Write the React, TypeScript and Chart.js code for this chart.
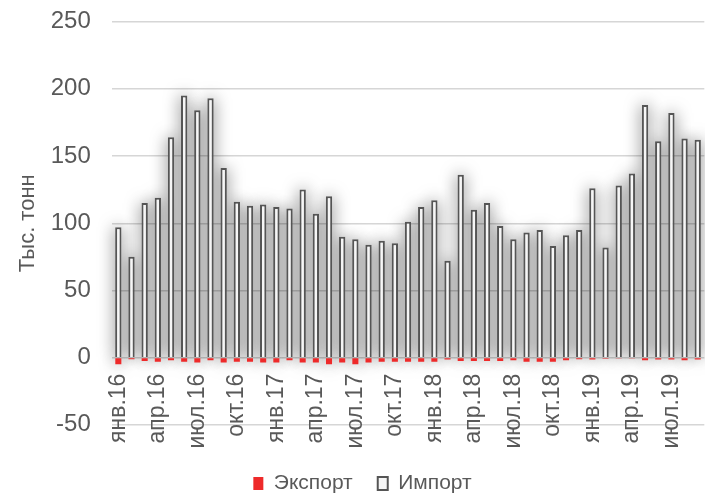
import { useEffect, useRef } from "react";
import { Chart, registerables } from "chart.js";

Chart.register(...registerables);

const categories: string[] = [
  "янв.16", "фев.16", "мар.16", "апр.16", "май.16", "июн.16", "июл.16", "авг.16", "сен.16", "окт.16", "ноя.16", "дек.16",
  "янв.17", "фев.17", "мар.17", "апр.17", "май.17", "июн.17", "июл.17", "авг.17", "сен.17", "окт.17", "ноя.17", "дек.17",
  "янв.18", "фев.18", "мар.18", "апр.18", "май.18", "июн.18", "июл.18", "авг.18", "сен.18", "окт.18", "ноя.18", "дек.18",
  "янв.19", "фев.19", "мар.19", "апр.19", "май.19", "июн.19", "июл.19", "авг.19", "сен.19",
];

const tickLabels: string[] = [
  "янв.16", "апр.16", "июл.16", "окт.16", "янв.17", "апр.17", "июл.17", "окт.17",
  "янв.18", "апр.18", "июл.18", "окт.18", "янв.19", "апр.19", "июл.19",
];

const exportValues: number[] = [
  -5, -1.2, -2.5, -3, -2, -3, -3.7, -2, -3.7, -3, -3, -3.7,
  -3.7, -2, -3.7, -3.7, -5, -3.7, -5, -3.7, -3, -3, -3, -3,
  -3, -1.5, -2.5, -2.5, -2.5, -2.5, -2, -3, -3, -3, -2, -1.2,
  -1.5, -0.8, -0.3, -0.3, -2, -1.5, -1.5, -2, -1.5,
];

const importValues: number[] = [
  97, 75, 115, 119, 164, 195, 184, 193, 141, 116, 113, 114,
  112, 111, 125, 107, 120, 90, 88, 84, 87, 85, 101, 112,
  117, 72, 136, 110, 115, 98, 88, 93, 95, 83, 91, 95,
  126, 82, 128, 137, 188, 161, 182, 163, 162,
];

const yTicks = { min: -50, max: 250, step: 50 };

const TEXT = "#595959";
const FONT = "'Liberation Sans', Arial, sans-serif";

// soft blurred shadow behind every bar (Excel-style outer shadow)
const shadowPlugin = {
  id: "barShadow",
  beforeDatasetsDraw(chart: any) {
    const ctx = chart.ctx;
    const OFF = 10000;
    ctx.save();
    ctx.shadowColor = "rgba(0,0,0,0.62)";
    ctx.shadowBlur = 16;
    ctx.shadowOffsetX = OFF;
    ctx.shadowOffsetY = 0;
    ctx.fillStyle = "#000";
    chart.data.datasets.forEach((_ds: any, di: number) => {
      const meta = chart.getDatasetMeta(di);
      if (meta.hidden) return;
      meta.data.forEach((el: any) => {
        const p = el.getProps(["x", "y", "base", "width"], true);
        const top = Math.min(p.y, p.base);
        const h = Math.abs(p.base - p.y);
        ctx.fillRect(p.x - p.width / 2 - OFF, top, p.width, h);
      });
    });
    ctx.restore();
  },
};

// nudge legend to match original horizontal placement
const legendShift = {
  id: "legendShift",
  afterLayout(chart: any) {
    const l = chart.legend;
    if (l) {
      l.left += 10;
      l.right += 10;
    }
  },
};

export default function App() {
  const canvasRef = useRef<HTMLCanvasElement | null>(null);

  useEffect(() => {
    if (!canvasRef.current) return;
    Chart.defaults.font.family = FONT;
    const chart = new Chart(canvasRef.current, {
      type: "bar",
      data: {
        labels: categories,
        datasets: [
          {
            label: "Экспорт",
            data: exportValues,
            backgroundColor: "#ee2a2a",
            borderWidth: 0,
            grouped: false,
            categoryPercentage: 1,
            barPercentage: 0.46,
          },
          {
            label: "Импорт",
            data: importValues,
            backgroundColor: "#f6f6f6",
            borderColor: "#555555",
            borderWidth: 2,
            grouped: false,
            categoryPercentage: 1,
            barPercentage: 0.48,
          },
        ],
      },
      options: {
        animation: false,
        responsive: true,
        maintainAspectRatio: false,
        layout: { padding: { top: 0, right: 0, left: 0, bottom: -9 } },
        scales: {
          x: {
            axis: "x",
            type: "category",
            position: { y: 0 } as any,
            grid: { display: true, color: "rgba(0,0,0,0)", drawTicks: true, tickLength: 10 },
            border: { display: false },
            ticks: {
              autoSkip: false,
              maxRotation: 90,
              minRotation: 90,
              padding: 6,
              color: TEXT,
              font: { size: 23, family: FONT },
              callback: (_v: any, i: number) => (tickLabels.includes(categories[i]) ? categories[i] : null),
            },
          } as any,
          y: {
            min: yTicks.min,
            max: yTicks.max,
            ticks: {
              stepSize: yTicks.step,
              padding: 21,
              color: TEXT,
              font: { size: 24, family: FONT, lineHeight: 0.05 },
            },
            grid: { color: "#d6d6d6", lineWidth: 1.4, drawTicks: false },
            border: { display: false },
            title: {
              display: true,
              text: "Тыс. тонн",
              color: TEXT,
              font: { size: 22, family: FONT },
              padding: { top: 15, bottom: -11.7 },
            },
          },
        },
        plugins: {
          legend: {
            position: "bottom",
            title: { display: true, text: "", font: { size: 1 }, padding: { top: 11, bottom: 11 } },
            labels: {
              boxWidth: 10,
              boxHeight: 13,
              padding: 25,
              color: TEXT,
              font: { size: 21, family: FONT },
            },
          },
          tooltip: { enabled: false },
        },
      },
      plugins: [shadowPlugin, legendShift],
    });
    return () => chart.destroy();
  }, []);

  return (
    <div style={{ position: "absolute", left: 0, top: 0, width: 705, height: 495 }}>
      <canvas ref={canvasRef} />
    </div>
  );
}
